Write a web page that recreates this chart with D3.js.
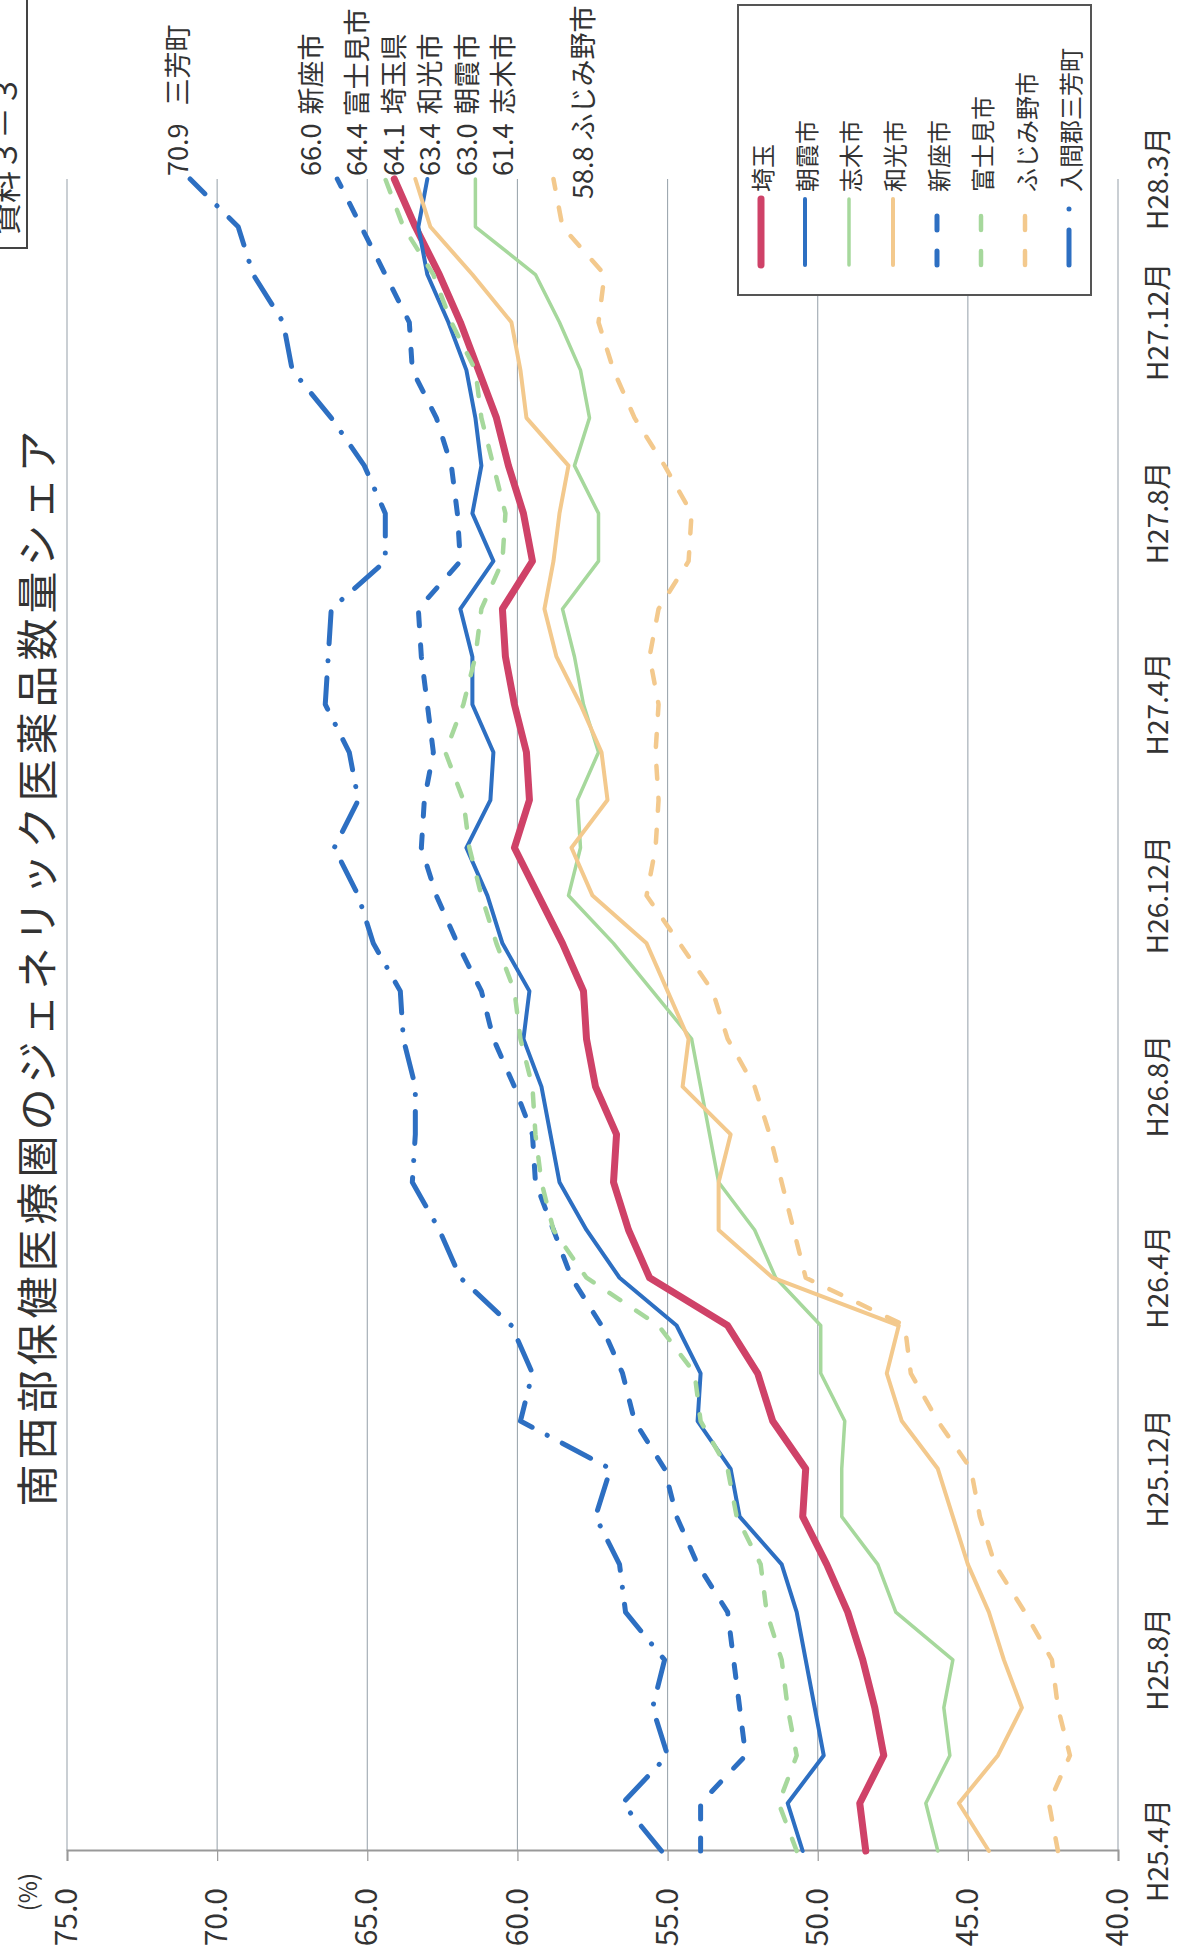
<!DOCTYPE html>
<html>
<head>
<meta charset="utf-8">
<script src="https://cdn.jsdelivr.net/npm/d3@7"></script>
<style>
  body { margin: 0; background: #fff; }
  svg { display: block; }
  text { font-family: "Noto Sans CJK JP", "Noto Sans", sans-serif; fill: #333; }
</style>
</head>
<body>
<svg id="chart" width="1184" height="1949"></svg>
<script>
// Months H25.4 – H28.3
const months = [
  "H25.4","H25.5","H25.6","H25.7","H25.8","H25.9","H25.10","H25.11","H25.12","H26.1","H26.2","H26.3",
  "H26.4","H26.5","H26.6","H26.7","H26.8","H26.9","H26.10","H26.11","H26.12","H27.1","H27.2","H27.3",
  "H27.4","H27.5","H27.6","H27.7","H27.8","H27.9","H27.10","H27.11","H27.12","H28.1","H28.2","H28.3"
];
const tickMonths = ["H25.4","H25.8","H25.12","H26.4","H26.8","H26.12","H27.4","H27.8","H27.12","H28.3"];
const percentTicks = [75, 70, 65, 60, 55, 50, 45, 40];

// Generic drug share (%) by month
const saitama  = [48.4,48.6,47.8,48.1,48.5,49.0,49.7,50.5,50.4,51.5,52.0,53.0,55.6,56.3,56.8,56.7,57.4,57.7,57.8,58.5,59.3,60.1,59.6,59.7,60.1,60.4,60.5,59.5,59.8,60.3,60.7,61.3,61.9,62.6,63.4,64.1];
const asaka    = [50.5,51.0,49.8,50.1,50.4,50.7,51.2,52.6,52.9,54.0,53.9,54.7,56.6,57.7,58.6,58.9,59.2,59.8,59.6,60.5,61.0,61.7,60.9,60.8,61.5,61.5,61.9,60.8,61.5,61.2,61.4,61.7,62.3,63.0,63.3,63.0];
const shiki    = [46.0,46.4,45.6,45.8,45.5,47.4,48.0,49.2,49.2,49.1,49.9,49.9,51.4,52.1,53.3,53.6,53.9,54.2,55.5,56.8,58.3,57.9,58.0,57.3,57.8,58.1,58.5,57.3,57.3,58.1,57.6,57.9,58.6,59.4,61.4,61.4];
const wako     = [44.3,45.3,44.0,43.2,43.8,44.3,45.0,45.5,46.0,47.2,47.7,47.3,51.5,53.3,53.3,52.9,54.5,54.3,55.0,55.7,57.5,58.2,57.0,57.2,57.9,58.7,59.1,58.8,58.6,58.3,59.7,59.9,60.2,61.5,62.9,63.4];
const niiza    = [53.9,53.9,52.4,52.6,52.8,53.0,54.0,54.7,55.1,56.1,56.5,57.2,58.2,58.8,59.4,59.5,60.1,60.8,61.2,62.0,62.7,63.2,63.1,62.8,63.0,63.2,63.3,61.9,62.0,62.2,62.7,63.5,63.6,64.4,65.2,66.0];
const fujimi   = [50.7,51.3,50.7,51.0,51.2,51.7,51.9,52.7,53.0,53.9,54.1,55.3,57.7,58.8,59.2,59.4,59.5,59.9,60.1,60.7,61.2,61.6,61.8,62.4,61.8,61.4,61.2,60.5,60.4,60.8,61.2,61.4,62.2,62.8,63.8,64.4];
const fujimino = [42.0,42.3,41.6,42.0,42.2,43.1,44.1,44.6,44.9,46.0,46.9,47.1,50.4,50.8,51.2,51.6,52.1,53.0,53.5,54.6,55.7,55.4,55.3,55.4,55.3,55.6,55.3,54.3,54.2,55.1,56.1,56.8,57.3,57.1,58.5,58.8];
const miyoshi  = [55.2,56.5,55.0,55.5,55.1,56.4,56.6,57.4,56.9,59.9,59.5,60.2,61.9,62.6,63.5,63.4,63.4,63.8,63.9,64.8,65.3,66.1,65.3,65.6,66.4,66.3,66.2,64.4,64.4,65.1,66.2,67.5,67.8,68.8,69.3,70.9];

const legendNames = ["埼玉","朝霞市","志木市","和光市","新座市","富士見市","ふじみ野市","入間郡三芳町"];
const endNames    = ["埼玉県","朝霞市","志木市","和光市","新座市","富士見市","ふじみ野市","三芳町"];
const seriesValues = [saitama, asaka, shiki, wako, niiza, fujimi, fujimino, miyoshi];

// Line styles per series (chart pattern, legend sample pattern)
const styles = [
  { color: "#CF4268", width: 7,   dash: null,           key: null },
  { color: "#2D6FC2", width: 4,   dash: null,           key: null },
  { color: "#A6D89C", width: 3.5, dash: null,           key: null },
  { color: "#F3C98D", width: 4,   dash: null,           key: null },
  { color: "#2D6FC2", width: 5,   dash: "13,19",        key: "14,21" },
  { color: "#A6D89C", width: 4.5, dash: "13,19",        key: "14,21" },
  { color: "#F3C98D", width: 4.5, dash: "13,19",        key: "14,21" },
  { color: "#2D6FC2", width: 5,   dash: "32,17,0.1,17", key: "35,21,0.1,30" }
];

// Placement of the right-end value labels (along the value axis) and their start offset
const endLabelLayout = [
  { y: 392, x: 1773, gap: 9 }, { y: 465, x: 1773, gap: 9 }, { y: 501, x: 1773, gap: 9 }, { y: 428, x: 1773, gap: 9 },
  { y: 309, x: 1773, gap: 9 }, { y: 355, x: 1773, gap: 7 }, { y: 581, x: 1750, gap: 6 }, { y: 176, x: 1773, gap: 18 }
];

const svg = d3.select("#chart");
// The chart is laid out landscape and turned a quarter turn counter-clockwise on the page
const g = svg.append("g").attr("transform", "translate(0,1949) rotate(-90)");

const x = d3.scalePoint().domain(months).range([98, 1770]);
const y = d3.scaleLinear().domain([40, 75]).range([1118, 67]);

// Document tag box (partly off the page edge)
g.append("rect").attr("x", 1701).attr("y", -40).attr("width", 300).attr("height", 67)
  .attr("fill", "none").attr("stroke", "#444").attr("stroke-width", 2);
g.append("text").attr("x", 1714).attr("y", 17).attr("font-size", 32).text("資料３－３");

// Title
g.append("text").attr("x", 983).attr("y", 34).attr("text-anchor", "middle")
  .attr("dominant-baseline", "central").attr("font-size", 42).attr("letter-spacing", 5)
  .text("南西部保健医療圏のジェネリック医薬品数量シェア");

// Gridlines
g.append("g").selectAll("line").data(percentTicks).join("line")
  .attr("x1", 98).attr("x2", 1770)
  .attr("y1", d => y(d)).attr("y2", d => y(d))
  .attr("stroke", "#9ea8b0").attr("stroke-width", 1.1);

// Value axis
const yAxis = d3.axisLeft(y).tickValues(percentTicks).tickFormat(d3.format(".1f"))
  .tickSize(10).tickPadding(27);
const ya = g.append("g").attr("transform", "translate(98,0)").call(yAxis);
ya.select(".domain").attr("stroke", "#999").attr("stroke-width", 2);
ya.selectAll(".tick line").attr("stroke", "#999").attr("stroke-width", 1.2);
ya.selectAll(".tick text").attr("font-size", 30).attr("font-family", "\"Noto Sans CJK JP\", sans-serif")
  .attr("fill", "#333");
g.append("text").attr("x", 76).attr("y", 26).attr("text-anchor", "end")
  .attr("dominant-baseline", "central").attr("font-size", 24).text("(%)");

// Month axis labels
const xAxis = d3.axisBottom(x).tickValues(tickMonths).tickFormat(d => d + "月")
  .tickSize(0).tickPadding(30);
const xa = g.append("g").attr("transform", "translate(0,1118)").call(xAxis);
xa.select(".domain").remove();
xa.selectAll(".tick text").attr("font-size", 28).attr("font-family", "\"Noto Sans CJK JP\", sans-serif")
  .attr("fill", "#333");

// Series lines
const line = d3.line().x((d, i) => x(months[i])).y(d => y(d)).curve(d3.curveLinear);
g.append("g").selectAll("path").data(seriesValues).join("path")
  .attr("d", d => line(d))
  .attr("fill", "none")
  .attr("stroke", (d, i) => styles[i].color)
  .attr("stroke-width", (d, i) => styles[i].width)
  .attr("stroke-dasharray", (d, i) => styles[i].dash)
  .attr("stroke-linecap", "round")
  .attr("stroke-linejoin", "round");

// Right-end value labels
const endLabels = g.append("g").selectAll("text").data(seriesValues).join("text")
  .attr("x", (d, i) => endLabelLayout[i].x)
  .attr("y", (d, i) => endLabelLayout[i].y)
  .attr("dominant-baseline", "central")
  .attr("font-size", 27);
endLabels.append("tspan").text(d => d3.format(".1f")(d[d.length - 1]));
endLabels.append("tspan").attr("dx", (d, i) => endLabelLayout[i].gap).text((d, i) => endNames[i]);

// Legend
const lg = g.append("g");
lg.append("rect").attr("x", 1654).attr("y", 738).attr("width", 290).attr("height", 353)
  .attr("fill", "#fff").attr("stroke", "#555").attr("stroke-width", 2);
const items = lg.selectAll("g.item").data(legendNames).join("g").attr("class", "item")
  .attr("transform", (d, i) => `translate(0,${761 + i * 44})`);
items.append("line").attr("x1", 1684).attr("x2", 1750).attr("y1", 0).attr("y2", 0)
  .attr("stroke", (d, i) => styles[i].color)
  .attr("stroke-width", (d, i) => styles[i].width)
  .attr("stroke-dasharray", (d, i) => styles[i].key)
  .attr("stroke-linecap", "round");
items.append("text").attr("x", 1757).attr("y", 0).attr("dominant-baseline", "central")
  .attr("font-size", 24).text(d => d);
</script>
</body>
</html>
